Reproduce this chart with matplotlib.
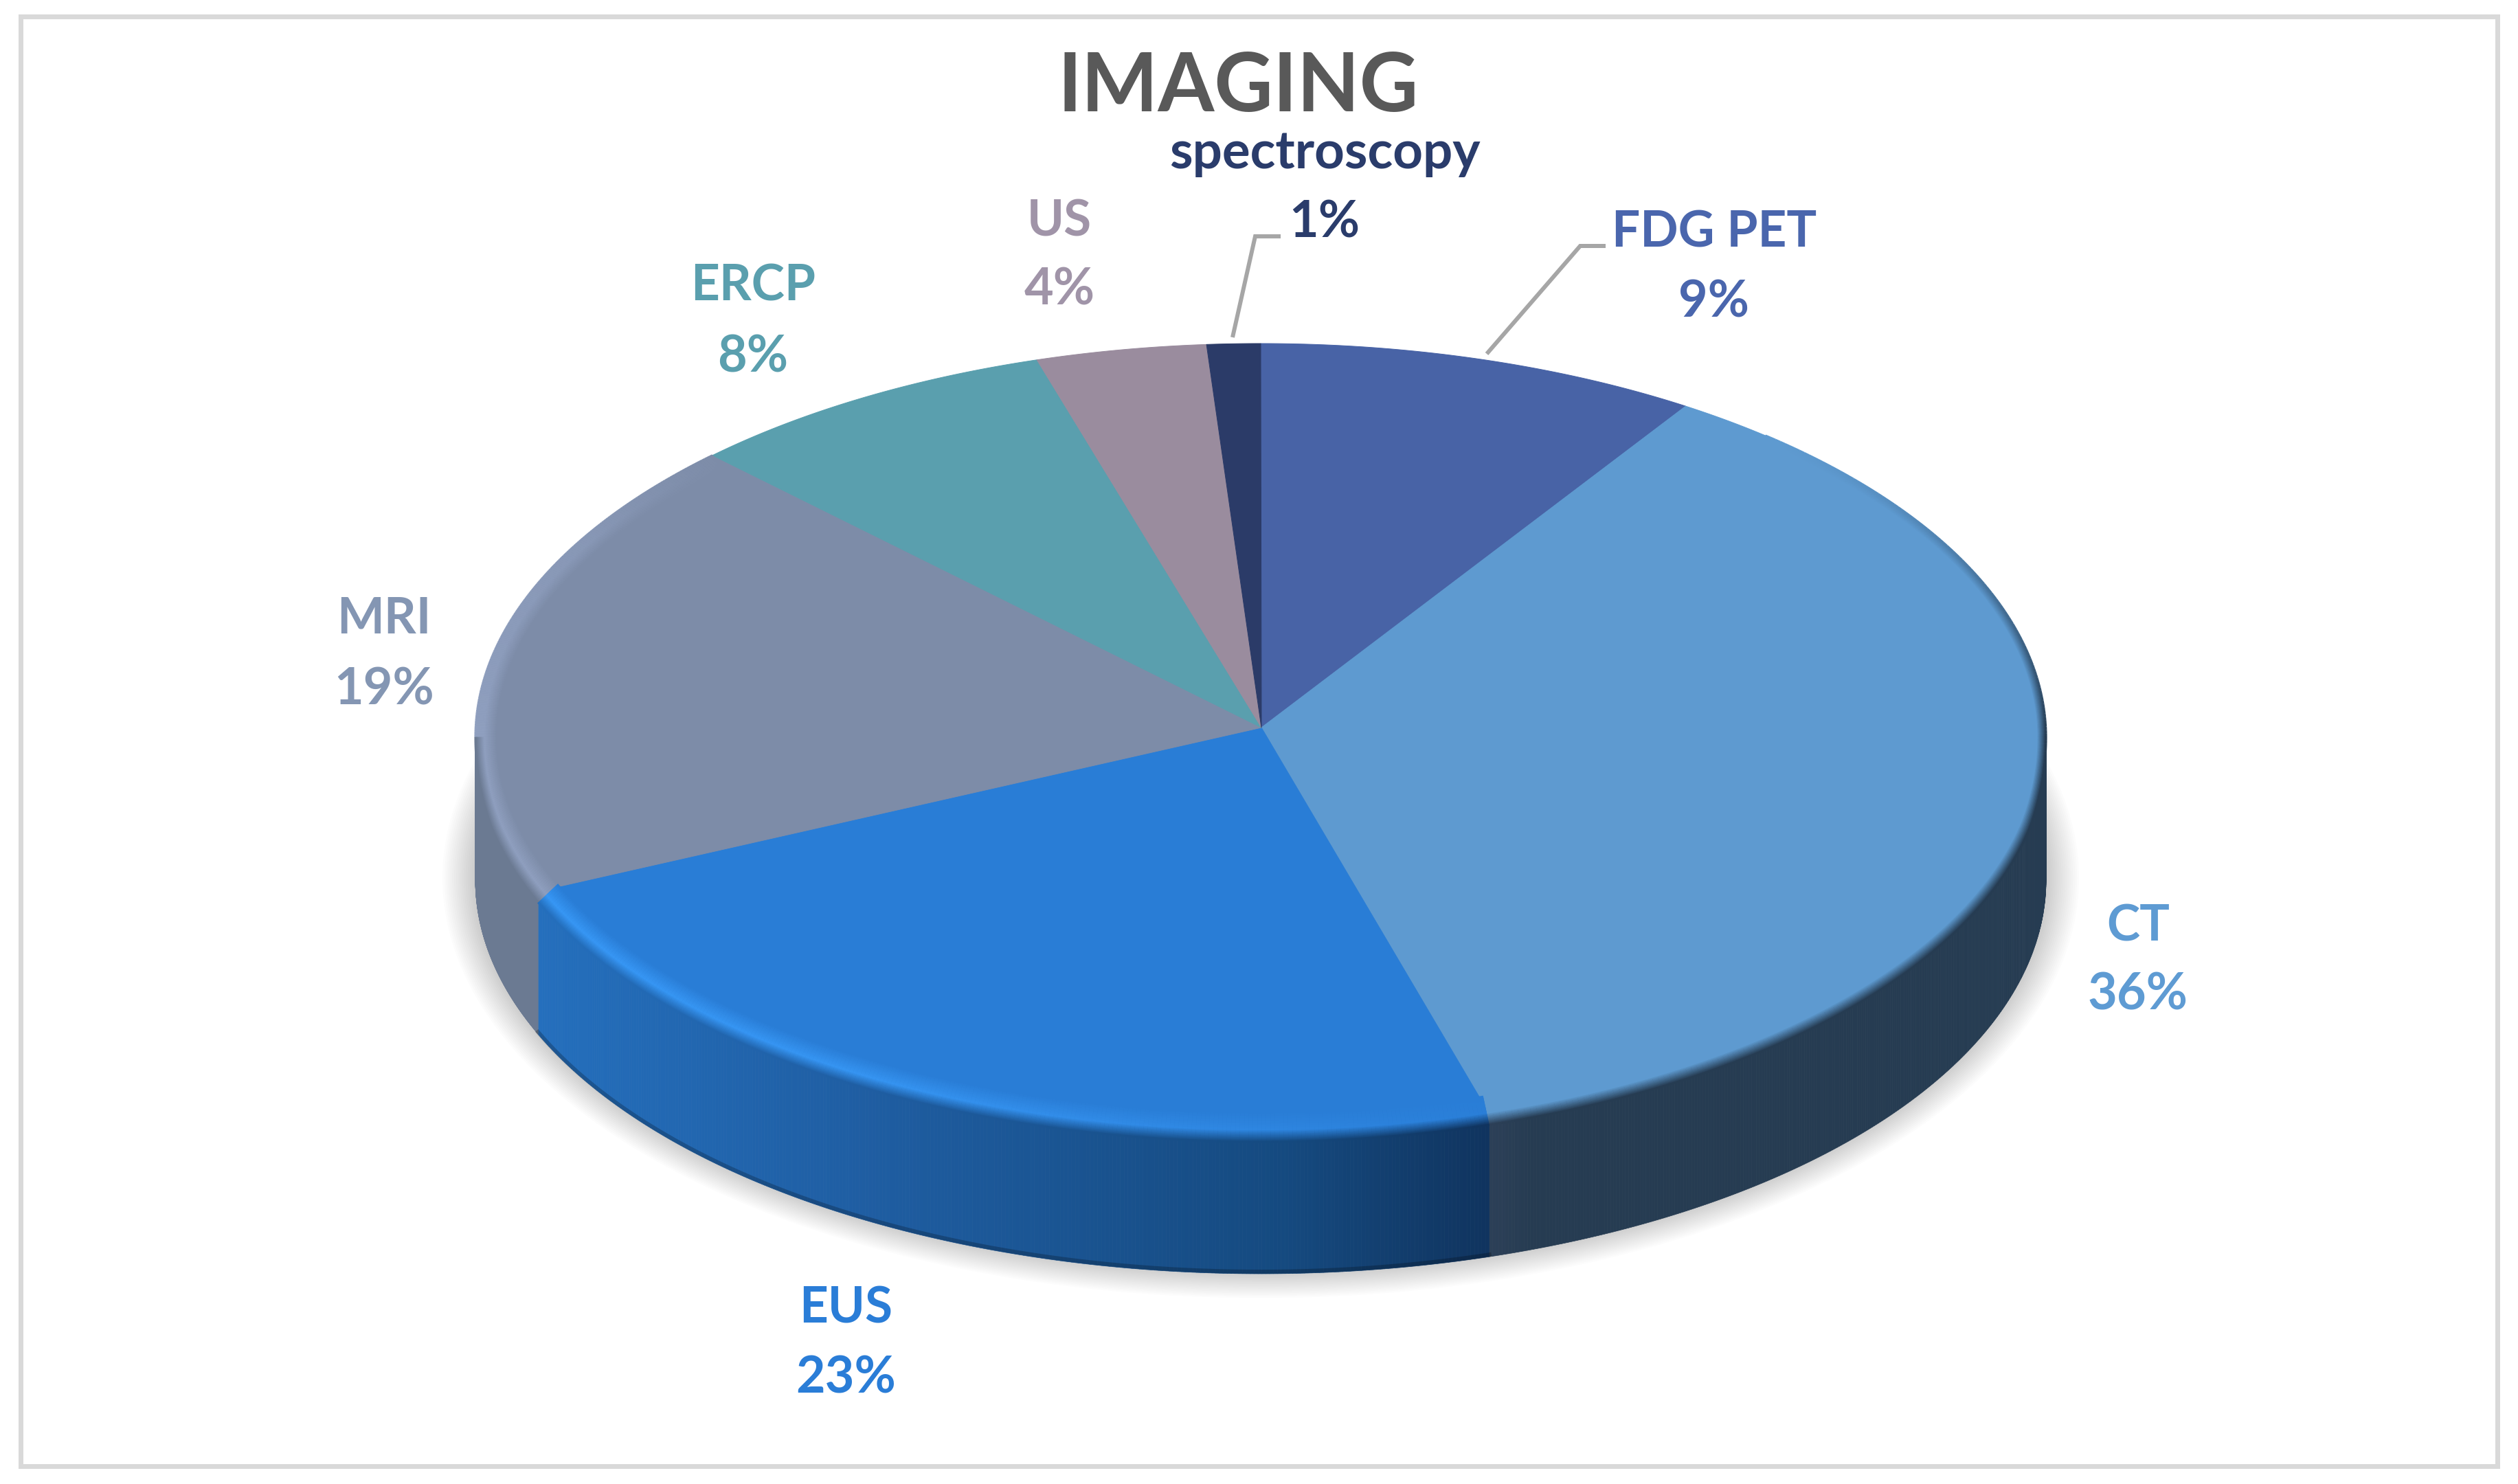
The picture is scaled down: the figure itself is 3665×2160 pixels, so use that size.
# 3D style pie chart of imaging modalities
import numpy as np
import matplotlib
matplotlib.use("Agg")
import matplotlib.pyplot as plt
from matplotlib.collections import LineCollection
from matplotlib.colors import to_rgb
from matplotlib.patches import Ellipse, Polygon, Rectangle

# ---------- Data ---------- #
categories = ["FDG PET", "CT", "EUS", "MRI", "ERCP", "US", "spectroscopy"]
pct_labels = ["9%", "36%", "23%", "19%", "8%", "4%", "1%"]
# slice shares as measured on the picture (perspective moves them off the labels a bit)
shares = [9.1, 36.2, 23.3, 19.1, 7.7, 3.5, 1.1]
title = "IMAGING"

face_colors = ["#4863a6", "#5e9ad0", "#297dd6", "#7d8ca8", "#5a9fae", "#9a8c9e", "#2b3b68"]
text_colors = ["#4a66ad", "#5e9bd3", "#2a7dd7", "#8496b3", "#5a9fae", "#a094a8", "#2a3c6b"]

# ---------- Layout (pixels of the 3666x2160 picture) ---------- #
W, H = 3666, 2160
cx, cy = 1835, 1073      # ellipse centre of the top face
a, b = 1143, 573         # semi axes
apex = (1836, 1059)      # where the slices meet
depth = 208

# label baselines: name x, name y, pct y
label_pos = {
    "FDG PET": (2495, 360, 461),
    "CT": (3112, 1369, 1470),
    "EUS": (1231, 1925, 2027),
    "MRI": (559, 922, 1025),
    "ERCP": (1096, 438, 541),
    "US": (1542, 343, 443),
    "spectroscopy": (1928, 245, 345),
}
leaders = [
    ([1794, 1827, 1864], [491, 344, 344]),
    ([2164, 2300, 2337], [515, 358, 358]),
]

wall_x = {
    "CT": ([2167, 2230, 2978], ["#2d4058", "#263c52", "#263c52"]),
    "EUS": ([782, 1250, 1870, 2167], ["#246fbd", "#1f5ea3", "#154a80", "#10345f"]),
    "MRI": ([692, 782], ["#6b7a92", "#6b7a92"]),
}
# highlight strength along the rim, with the theta (degrees) where it applies
rim = {
    "CT": ("#5e9ad0", [40, 170], [0, 0]),
    "EUS": ("#3797f5", [160, 180, 210, 250], [0.0, 0.35, 0.9, 1.0]),
    "MRI": ("#8f9fbf", [240, 270, 300, 316], [1.0, 1.0, 0.6, 0.0]),
}


def edge(theta, aa=a, bb=b, dy=0.0):
    return cx + aa * np.sin(theta), cy - bb * np.cos(theta) + dy


def wall_color(name, x):
    xs, cols = wall_x[name]
    rgb = np.array([to_rgb(c) for c in cols])
    return np.column_stack([np.interp(x, xs, rgb[:, k]) for k in range(3)])


plt.rcParams["font.family"] = ["Lato", "DejaVu Sans"]
fig = plt.figure(figsize=(W / 100, H / 100), dpi=100)
ax = fig.add_axes([0, 0, 1, 1])
ax.axis("off")

# outer frame
ax.add_patch(Rectangle((30.5, 23.5), 3605, 2110, fill=False, ec="#d9d9d9", lw=7 * 0.72, zorder=1))

# soft shadow below the pie
for e in np.linspace(48, 0, 18):
    ax.add_patch(Ellipse((cx, cy + depth - 3), 2 * (a + e), 2 * (b + 0.8 * e),
                         fc="black", ec="none", alpha=0.012, zorder=2))

bounds = np.radians(np.concatenate([[0], np.cumsum(shares)]) * 3.6 * 100 / np.sum(shares))

# side walls, only the front half shows
for i, name in enumerate(categories):
    if name not in wall_x:
        continue
    t0, t1 = max(bounds[i], np.pi / 2), min(bounds[i + 1], 1.5 * np.pi)
    th = np.linspace(t0, t1, 300)
    x, y = edge(th)
    xb, yb = edge(th, dy=depth)
    # one thin quad per step so the wall can carry its gradient
    cols = wall_color(name, x)
    for k in range(len(th) - 1):
        quad = [(x[k], y[k]), (x[k + 1], y[k + 1]), (xb[k + 1], yb[k + 1]), (xb[k], yb[k])]
        ax.add_patch(Polygon(quad, fc=cols[k], ec=cols[k], lw=0.5, zorder=3))
    # darker lower edge on the wall
    if name == "EUS":
        ax.plot(xb, yb - 3, color="black", alpha=0.22, lw=6 * 0.72, zorder=3.5)

# top face
for i, name in enumerate(categories):
    th = np.linspace(bounds[i], bounds[i + 1], 200)
    x, y = edge(th)
    pts = np.column_stack([np.r_[apex[0], x], np.r_[apex[1], y]])
    ax.add_patch(Polygon(pts, fc=face_colors[i], ec=face_colors[i], lw=0.7, zorder=4))

# bevel along the rim, drawn as many thin ellipse arcs going from face to wall colour
levels = np.linspace(0, 1, 26)
for i, name in enumerate(categories):
    if name not in rim:
        continue
    peak, th_deg, strength = rim[name]
    face = np.array(to_rgb(face_colors[i]))
    peak = np.array(to_rgb(peak))
    t0 = max(bounds[i], np.radians(th_deg[0]))
    t1 = min(bounds[i + 1], np.radians(th_deg[-1]))
    th = np.linspace(t0, t1, 260)
    deg = np.degrees(th)
    s = np.interp(deg, th_deg, strength)[:, None]
    top = face + (peak - face) * s
    # how far the outer colour goes to the wall colour (no wall behind the back half)
    if name == "CT":
        fade = np.clip((deg - 40) / 50, 0, 1)[:, None] ** 1.5
    elif name == "MRI":
        fade = (deg < 270)[:, None].astype(float)
    else:
        fade = np.ones((len(th), 1))
    down = np.clip(-np.cos(th) / 0.2, 0, 1)
    for t in levels:
        x, y = edge(th, a - 30 * (1 - t), b - 26 * (1 - t), 16 * t * down)
        outer = top + (wall_color(name, x) - top) * fade
        if t < 0.6:
            col = face + (top - face) * (t / 0.6)
        else:
            col = top + (outer - top) * ((t - 0.6) / 0.4)
        seg = np.stack([np.column_stack([x[:-1], y[:-1]]), np.column_stack([x[1:], y[1:]])], axis=1)
        ax.add_collection(LineCollection(seg, colors=col[:-1], linewidths=3.2 * 0.72, zorder=5,
                                         capstyle="butt"))

# leader lines
for lx, ly in leaders:
    ax.plot(lx, ly, color="#a6a6a6", lw=6 * 0.72, solid_joinstyle="miter", solid_capstyle="butt", zorder=6)

# labels
for i, name in enumerate(categories):
    lx, ny, py = label_pos[name]
    size = 55 if name == "spectroscopy" else 52.5
    ax.text(lx, ny, name, color=text_colors[i], fontsize=size, fontweight="bold",
            ha="center", va="baseline", zorder=7)
    ax.text(lx, py, pct_labels[i], color=text_colors[i], fontsize=53, fontweight="bold",
            ha="center", va="baseline", zorder=7)

ax.text(1802, 162, title, color="#595959", fontsize=85, fontweight="bold",
        ha="center", va="baseline", zorder=7)

ax.set_xlim(0, W)
ax.set_ylim(H, 0)
fig.savefig("out.png", dpi=100, facecolor="white")
